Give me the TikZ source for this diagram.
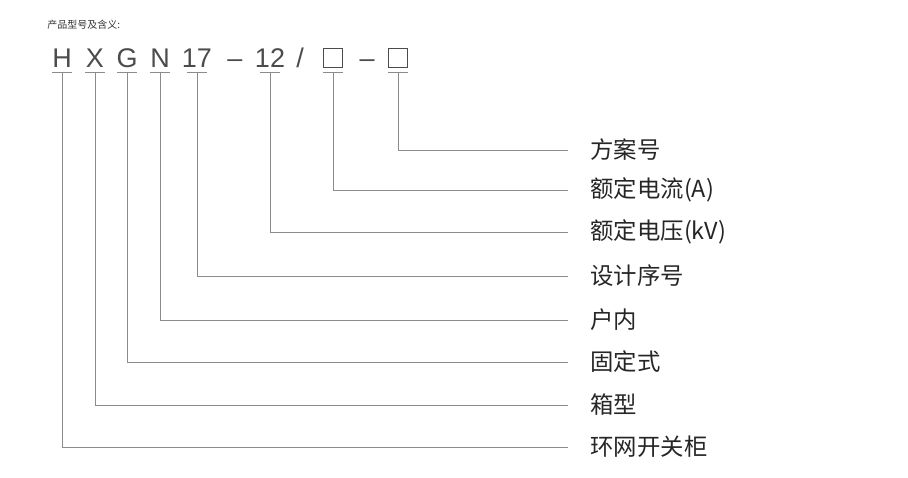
\documentclass[tikz,border=0pt]{standalone}
\usepackage{fontspec}
\setmainfont{Liberation Sans}
\newfontfamily\cjk{Noto Sans CJK SC}
\usetikzlibrary{positioning}
\newcommand\codebox{{\setlength\fboxsep{0pt}\setlength\fboxrule{0.4pt}\fbox{\rule{0pt}{9pt}\hspace{9pt}}}}
\begin{document}
\begin{tikzpicture}[x=0.5pt,y=-0.5pt,
    code/.style={font=\fontsize{13.5}{13.5}\selectfont, text=black!70, inner sep=0pt, anchor=base},
    label/.style={font=\cjk\fontsize{11.7}{11.7}\selectfont, text=black!85, anchor=west, inner sep=0pt},
    lead/.style={draw=black!45, line width=0.5pt}]
  \useasboundingbox (0,0) rectangle (908,477);
  \node[font=\cjk\fontsize{5}{5}\selectfont, anchor=west, inner sep=0pt, text=black!80] (title) at (47,25) {产品型号及含义:};

  % symbols of the code
  \foreach \nm/\x/\t in {h/62/H, x/95/X, g/127/G, n/160/N, a/197/17, d/235/--, b/270/12, s/300/{/}, c/333/\codebox, e/367/--, f/398/\codebox}
    \node[code] (\nm) at (\x,67) {\t};

  % underlines, leaders and meanings
  \foreach \nm/\x/\y/\t in {f/398/150/方案号, c/333/190/额定电流(A), b/270/232/额定电压(kV), a/197/276/设计序号,
                             n/160/320/户内, g/127/362/固定式, x/95/405/箱型, h/62/447/环网开关柜} {
    \coordinate (\nm top) at (\x,72);
    \coordinate (\nm bend) at (\x,\y);
    \coordinate (\nm end) at (568,\y);
    \node[label] (\nm lbl) at (590,\y) {\t};
    \draw[lead] ([xshift=-5]\nm top) -- ([xshift=5]\nm top);
    \draw[lead] (\nm top) -- (\nm bend) -- (\nm end);
  }
\end{tikzpicture}
\end{document}
